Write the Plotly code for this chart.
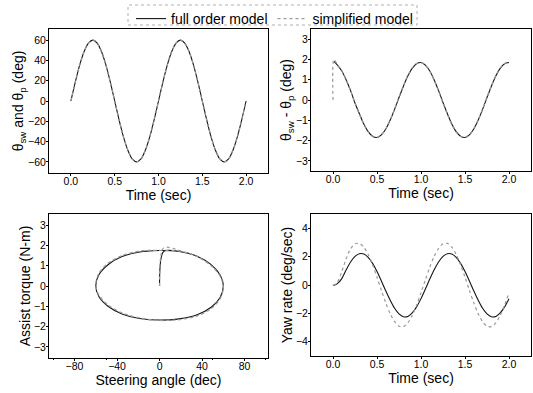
import plotly.graph_objects as go

# ---- data ----
t = [0, 0.01, 0.05, 0.1, 0.15, 0.2, 0.25, 0.3, 0.35, 0.4, 0.45, 0.5,
     0.55, 0.6, 0.65, 0.7, 0.75, 0.8, 0.85, 0.9, 0.95, 1.0,
     1.05, 1.1, 1.15, 1.2, 1.25, 1.3, 1.35, 1.4, 1.45, 1.5,
     1.55, 1.6, 1.65, 1.7, 1.75, 1.8, 1.85, 1.9, 1.95, 2.0]

theta_full = [0, 3.8, 18.5, 35.3, 48.5, 57.1, 60, 57.1, 48.5, 35.3, 18.5, 0,
              -18.5, -35.3, -48.5, -57.1, -60, -57.1, -48.5, -35.3, -18.5, 0,
              18.5, 35.3, 48.5, 57.1, 60, 57.1, 48.5, 35.3, 18.5, 0,
              -18.5, -35.3, -48.5, -57.1, -60, -57.1, -48.5, -35.3, -18.5, 0]
theta_simp = [0, 3.8, 18.5, 35.3, 48.5, 57.1, 60, 57.1, 48.5, 35.3, 18.5, 0,
              -18.5, -35.3, -48.5, -57.1, -60, -57.1, -48.5, -35.3, -18.5, 0,
              18.5, 35.3, 48.5, 57.1, 60, 57.1, 48.5, 35.3, 18.5, 0,
              -18.5, -35.3, -48.5, -57.1, -60, -57.1, -48.5, -35.3, -18.5, 0]

# full-order curve starts at the first computed sample (no value at t = 0)
diff_full = [None, 1.90, 1.72, 1.43, 0.99, 0.46, -0.15, -0.68, -1.18, -1.56, -1.79, -1.85,
             -1.72, -1.43, -0.99, -0.46, 0.12, 0.68, 1.18, 1.56, 1.79, 1.85,
             1.72, 1.43, 0.99, 0.46, -0.12, -0.68, -1.18, -1.56, -1.79, -1.85,
             -1.72, -1.43, -0.99, -0.46, 0.12, 0.68, 1.18, 1.56, 1.79, 1.85]
diff_simp = [0, 2.0, 1.74, 1.45, 1.0, 0.44, -0.14, -0.70, -1.2, -1.58, -1.8, -1.84,
             -1.70, -1.41, -0.97, -0.44, 0.14, 0.70, 1.2, 1.58, 1.8, 1.84,
             1.70, 1.41, 0.97, 0.44, -0.14, -0.70, -1.2, -1.58, -1.8, -1.84,
             -1.70, -1.41, -0.97, -0.44, 0.14, 0.70, 1.2, 1.58, 1.8, 1.84]

torque_full = [0, 1.70, 1.70, 1.47, 1.05, 0.53, 0.0, -0.55, -1.05, -1.42, -1.62, -1.68,
               -1.60, -1.38, -1.0, -0.52, 0.0, 0.55, 1.05, 1.45, 1.68, 1.75,
               1.70, 1.47, 1.05, 0.53, 0.0, -0.55, -1.05, -1.42, -1.62, -1.68,
               -1.60, -1.38, -1.0, -0.52, 0.0, 0.55, 1.05, 1.45, 1.68, 1.75]
torque_simp = [0, 1.88, 1.76, 1.45, 1.0, 0.48, -0.06, -0.62, -1.12, -1.48, -1.66, -1.70,
               -1.58, -1.33, -0.94, -0.45, 0.06, 0.62, 1.12, 1.50, 1.72, 1.76,
               1.72, 1.45, 1.0, 0.48, -0.06, -0.62, -1.12, -1.48, -1.66, -1.70,
               -1.58, -1.33, -0.94, -0.45, 0.06, 0.62, 1.12, 1.50, 1.72, 1.76]

yaw_full = [0, -0.02, 0.1, 0.45, 1.07, 1.62, 2.01, 2.20, 2.18, 1.94, 1.52, 0.95,
            0.28, -0.42, -1.08, -1.64, -2.04, -2.24, -2.22, -1.97, -1.54, -0.96,
            -0.28, 0.42, 1.07, 1.62, 2.01, 2.20, 2.18, 1.94, 1.52, 0.95,
            0.28, -0.42, -1.08, -1.64, -2.04, -2.24, -2.22, -1.97, -1.54, -0.96]
yaw_simp = [0, 0.0, 0.2, 0.95, 1.85, 2.55, 2.90, 2.93, 2.67, 2.15, 1.42, 0.55,
            -0.37, -1.26, -2.02, -2.58, -2.90, -2.93, -2.67, -2.15, -1.42, -0.55,
            0.37, 1.26, 2.02, 2.58, 2.90, 2.93, 2.67, 2.15, 1.42, 0.55,
            -0.37, -1.26, -2.02, -2.58, -2.90, -2.93, -2.67, -2.15, -1.42, -0.55]

series_names = ["full order model", "simplified model"]
time_ticks = [0.0, 0.5, 1.0, 1.5, 2.0]
angle_ticks = [-80, -40, 0, 40, 80]

# ---- figure ----
W, H = 533, 393
FONT = "Liberation Sans, Arial, sans-serif"
full_line = dict(color="#141414", width=1.1, smoothing=0.8)
simp_line = dict(color="#9a9a9a", width=1.2, dash="dot", smoothing=0.8)

fig = go.Figure()

def add_pair(xf, yf, xs, ys, xa, ya, legend=False):
    fig.add_trace(go.Scatter(x=xf, y=yf, mode="lines", line=full_line, line_shape="spline",
                             name=series_names[0], showlegend=legend, xaxis=xa, yaxis=ya))
    fig.add_trace(go.Scatter(x=xs, y=ys, mode="lines", line=simp_line, line_shape="spline",
                             name=series_names[1], showlegend=legend, xaxis=xa, yaxis=ya))

add_pair(t, theta_full, t, theta_simp, "x", "y", legend=True)
add_pair(t, diff_full, t, diff_simp, "x2", "y2")
add_pair(theta_full, torque_full, theta_simp, torque_simp, "x3", "y3")
add_pair(t, yaw_full, t, yaw_simp, "x4", "y4")

def px_x(a, b):
    return [a / W, b / W]

def px_y(top, bottom):
    return [(H - bottom) / H, (H - top) / H]

ax_common = dict(showgrid=False, zeroline=False, showline=True, mirror=True,
                 linecolor="black", linewidth=1, ticks="outside", ticklen=2,
                 tickcolor="black", tickfont=dict(family=FONT, size=10.5, color="black"),
                 title_font=dict(family=FONT, size=14, color="black"),
                 automargin=False,
                 minor=dict(ticks="outside", ticklen=1, tickcolor="black", nticks=2))
xa_c = dict(ax_common, ticklabelstandoff=-4)
ya_c = dict(ax_common, ticklabelstandoff=-2)

fig.update_layout(
    width=W, height=H, margin=dict(l=0, r=0, t=0, b=0, autoexpand=False),
    paper_bgcolor="white", plot_bgcolor="white",
    font=dict(family=FONT, color="black"),
    xaxis=dict(xa_c, domain=px_x(49, 268), anchor="y", range=[-0.25, 2.25],
               tickvals=time_ticks, tickformat=".1f",
               title=dict(text="Time (sec)", standoff=3)),
    yaxis=dict(ya_c, domain=px_y(29, 173), anchor="x", range=[-71, 71],
               tickvals=[-60, -40, -20, 0, 20, 40, 60],
               title=dict(text="θ<sub>sw</sub> and θ<sub>p</sub> (deg)", standoff=0)),
    xaxis2=dict(xa_c, domain=px_x(311, 531), anchor="y2", range=[-0.25, 2.25],
                tickvals=time_ticks, tickformat=".1f",
                title=dict(text="Time (sec)", standoff=3)),
    yaxis2=dict(ya_c, domain=px_y(29, 171), anchor="x2", range=[-3.5, 3.5],
                tickvals=[-3, -2, -1, 0, 1, 2, 3],
                title=dict(text="θ<sub>sw</sub> - θ<sub>p</sub> (deg)", standoff=0)),
    xaxis3=dict(xa_c, domain=px_x(49, 268), anchor="y3", range=[-104, 102],
                tickvals=angle_ticks,
                title=dict(text="Steering angle (dec)", standoff=4)),
    yaxis3=dict(ya_c, domain=px_y(214, 358), anchor="x3", range=[-3.55, 3.55],
                tickvals=[-3, -2, -1, 0, 1, 2, 3],
                title=dict(text="Assist torque (N-m)", standoff=0)),
    xaxis4=dict(xa_c, domain=px_x(311, 531), anchor="y4", range=[-0.25, 2.25],
                tickvals=time_ticks, tickformat=".1f",
                title=dict(text="Time (sec)", standoff=4)),
    yaxis4=dict(ya_c, domain=px_y(214, 356), anchor="x4", range=[-5, 5],
                tickvals=[-4, -2, 0, 2, 4],
                title=dict(text="Yaw rate (deg/sec)", standoff=0)),
    legend=dict(orientation="h", x=131 / W, y=1 - 3 / H, xanchor="left", yanchor="top",
                font=dict(family=FONT, size=14, color="black"),
                bgcolor="rgba(0,0,0,0)", borderwidth=0,
                itemwidth=30, tracegroupgap=0),
    shapes=[dict(type="rect", xref="paper", yref="paper",
                 x0=128 / W, x1=417 / W, y0=1 - 25 / H, y1=1 - 5 / H,
                 line=dict(color="#b0b0b0", width=1, dash="dot"))],
)

fig.write_html("out.html", config={"displayModeBar": False},
               post_script="document.body.style.margin='0px';document.body.style.padding='0px';")
